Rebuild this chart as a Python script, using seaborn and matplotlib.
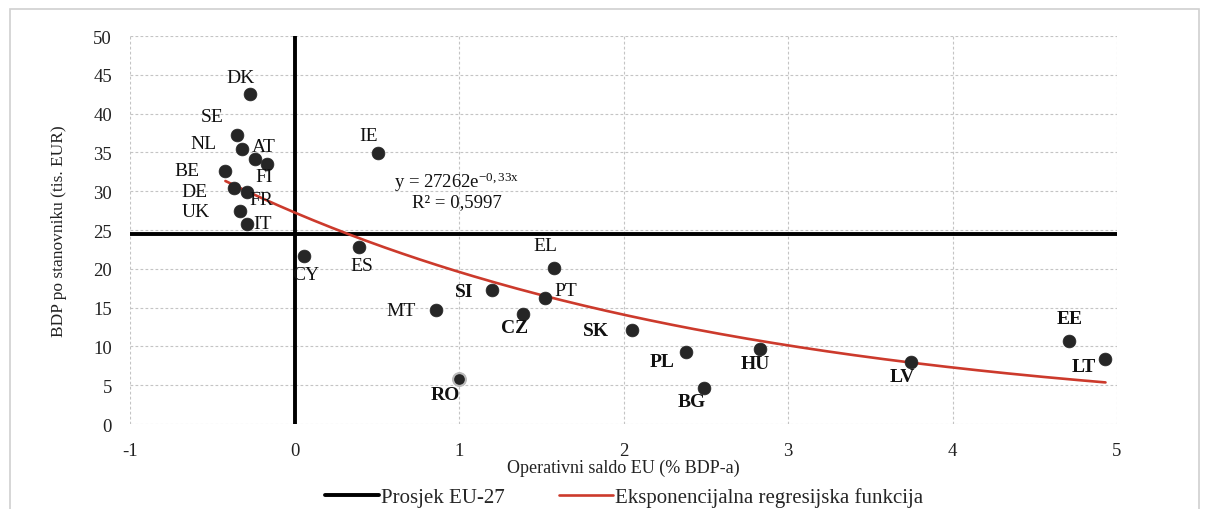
import numpy as np
import pandas as pd
import matplotlib
matplotlib.use("Agg")
import matplotlib.pyplot as plt
import seaborn as sns
from matplotlib.patches import Rectangle

countries = ["DK", "SE", "NL", "AT", "FI", "BE", "DE", "FR", "UK", "IT", "IE",
             "CY", "ES", "EL", "SI", "PT", "MT", "CZ", "RO", "SK", "PL", "HU",
             "BG", "LV", "EE", "LT"]
op_balance = [-0.27, -0.35, -0.32, -0.24, -0.17, -0.42, -0.37, -0.29, -0.33, -0.29, 0.51,
              0.06, 0.39, 1.58, 1.20, 1.52, 0.86, 1.39, 1.00, 2.05, 2.38, 2.83,
              2.49, 3.75, 4.71, 4.93]
gdp = [42.5, 37.2, 35.4, 34.1, 33.5, 32.6, 30.4, 29.9, 27.4, 25.8, 34.9,
       21.6, 22.8, 20.1, 17.3, 16.2, 14.7, 14.2, 5.8, 12.1, 9.3, 9.7,
       4.7, 8.0, 10.7, 8.4]
new_member = [False] * 11 + [False, False, False, True, False, False, True, True, True, True, True,
                             True, True, True, True]
label_offsets = [(-10, 17), (-25, 19), (-38, 6), (9, 13), (-2, -12), (-38, 1), (-39, -3),
                 (15, -8), (-45, 0), (16, 0), (-10, 18), (1, -18), (3, -18), (-9, 23),
                 (-28, -2), (21, 8), (-35, -1), (-9, -14), (-14, -16), (-36, 0), (-24, -10),
                 (-5, -15), (-12, -14), (-9, -15), (0, 22), (-22, -8)]
eu27_avg = 24.5
reg_a, reg_b = 27.262, -0.33
x_ticks = [-1, 0, 1, 2, 3, 4, 5]
y_ticks = [0, 5, 10, 15, 20, 25, 30, 35, 40, 45, 50]

df = pd.DataFrame({"country": countries, "x": op_balance, "y": gdp})

sns.set_theme(style="white")
plt.rcParams["font.family"] = ["Liberation Serif", "DejaVu Serif"]
plt.rcParams["axes.unicode_minus"] = False
plt.rcParams["mathtext.fontset"] = "custom"
plt.rcParams["mathtext.rm"] = "Liberation Serif"
plt.rcParams["mathtext.it"] = "Liberation Serif"

fig = plt.figure(figsize=(12.06, 5.10), dpi=100)
ax = fig.add_axes([130 / 1206, 1 - 425 / 510, (1117 - 130) / 1206, (425 - 37) / 510])

fig.patches.append(Rectangle((10 / 1206, -0.05), (1199 - 10) / 1206, 1.05 - 10 / 510,
                             transform=fig.transFigure, fill=False, edgecolor="#d0d0d0",
                             linewidth=1.2, zorder=0))

ax.set_xlim(-1, 5)
ax.set_ylim(0, 50)
ax.set_xticks(x_ticks)
ax.set_yticks(y_ticks)
ax.grid(True, color="#c4c4c4", linestyle=(0, (2.5, 2)), linewidth=0.8)
for s in ax.spines.values():
    s.set_visible(False)
ax.tick_params(axis="both", length=0, labelsize=13.5, colors="#222222")
ax.tick_params(axis="x", pad=13)
ax.tick_params(axis="y", pad=13)

# reference lines
ax.axvline(0, color="black", linewidth=2.8, zorder=2)
ax.axhline(eu27_avg, color="black", linewidth=2.8, zorder=2, label="Prosjek EU-27")

# regression curve
xs = np.linspace(min(op_balance), max(op_balance), 200)
curve = pd.DataFrame({"x": xs, "y": reg_a * np.exp(reg_b * xs)})
sns.lineplot(data=curve, x="x", y="y", ax=ax, color="#cc3a2c", linewidth=1.9, zorder=3,
             label="Eksponencijalna regresijska funkcija")

# scatter
sns.scatterplot(data=df, x="x", y="y", ax=ax, color="#262626", s=85, edgecolor="#262626",
                linewidth=0.5, zorder=4, legend=False)
ro = df[df.country == "RO"]
ax.scatter(ro.x, ro.y, s=85, color="#262626", edgecolor="#bbbbbb", linewidth=1.5, zorder=5)

for c, x, y, nm, off in zip(countries, op_balance, gdp, new_member, label_offsets):
    ax.annotate(c, (x, y), xytext=off, textcoords="offset pixels", ha="center", va="center",
                fontsize=14, fontweight="bold" if nm else "normal", color="#111111", zorder=6)

ax.text(0.985, 31.3, r"y = 27262e$^{\mathrm{-0,33x}}$", fontsize=13.5, ha="center", va="center",
        color="#111111")
ax.text(0.985, 28.6, "R² = 0,5997", fontsize=13.5, ha="center", va="center", color="#111111")

ax.set_xlabel("Operativni saldo EU (% BDP-a)", fontsize=13, color="#222222", labelpad=0)
ax.set_ylabel("BDP po stanovniku (tis. EUR)", fontsize=12.5, color="#222222", labelpad=19)

handles, labels = ax.get_legend_handles_labels()
fig.legend(handles, labels, loc="center", bbox_to_anchor=(624 / 1206, 1 - 498 / 510), ncol=2,
           frameon=False, fontsize=15, handlelength=2.6, handletextpad=0.1, columnspacing=2.6)
if ax.get_legend() is not None:
    ax.get_legend().remove()

fig.savefig("out.png", dpi=100, facecolor="white")
